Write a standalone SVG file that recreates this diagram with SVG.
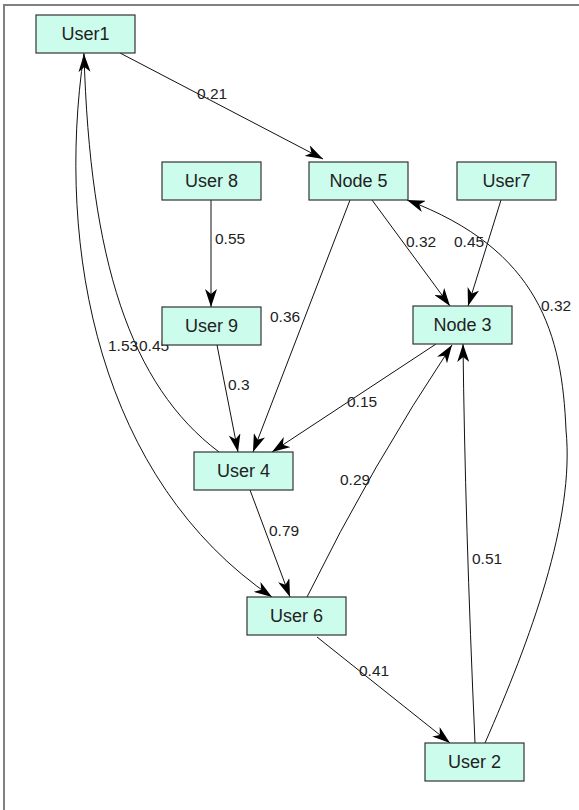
<svg xmlns="http://www.w3.org/2000/svg" width="579" height="810" viewBox="0 0 579 810">
<defs>
<style>
.node rect{fill:#ccfcec;stroke:#333;stroke-width:1.2}
.node text{font-family:"Liberation Sans",Arial,sans-serif;font-size:18px;fill:#222;text-anchor:middle}
.edges path{fill:none;stroke:#111;stroke-width:1}
.lbl{font-family:"Liberation Sans",Arial,sans-serif;font-size:15.5px;fill:#222}
</style>
<marker id="arr" viewBox="0 0 18 12" refX="18" refY="6" markerWidth="18" markerHeight="12" orient="auto" markerUnits="userSpaceOnUse">
<path d="M0,0 L18,6 L0,12 L5,6 z" fill="#000"/>
</marker>
</defs>
<rect x="0" y="0" width="579" height="810" fill="#fff"/>
<path d="M4,810 V5 H579" fill="none" stroke="#808080" stroke-width="2"/>
<g id="connectors" class="edges">
<path d="M120,53 L323,159" marker-end="url(#arr)"/>
<path d="M211,200 L211,307" marker-end="url(#arr)"/>
<path d="M372,200 L450,306" marker-end="url(#arr)"/>
<path d="M501,200 L468,306" marker-end="url(#arr)"/>
<path d="M485,743 C530,640 575,520 566,430 C562,335 540,250 407,200" marker-end="url(#arr)"/>
<path d="M475,743 Q465,520 463,344" marker-end="url(#arr)"/>
<path d="M307,597 Q372,465 452,345" marker-end="url(#arr)"/>
<path d="M436,344 L272,452" marker-end="url(#arr)"/>
<path d="M350,200 L253,452" marker-end="url(#arr)"/>
<path d="M217,345 L238,452" marker-end="url(#arr)"/>
<path d="M219,452 C130,385 90,260 84,54" marker-end="url(#arr)"/>
<path d="M84,53 C55,250 100,480 272,597" marker-end="url(#arr)"/>
<path d="M250,490 L290,597" marker-end="url(#arr)"/>
<path d="M317,637 L450,743" marker-end="url(#arr)"/>
</g>
<g id="edge-labels">
<text class="lbl" x="197" y="99">0.21</text>
<text class="lbl" x="215" y="244">0.55</text>
<text class="lbl" x="406" y="247">0.32</text>
<text class="lbl" x="454" y="247">0.45</text>
<text class="lbl" x="541" y="311">0.32</text>
<text class="lbl" x="270" y="322">0.36</text>
<text class="lbl" x="108" y="351">1.53</text>
<text class="lbl" x="139" y="351">0.45</text>
<text class="lbl" x="228" y="390">0.3</text>
<text class="lbl" x="347" y="407">0.15</text>
<text class="lbl" x="340" y="485">0.29</text>
<text class="lbl" x="269" y="536">0.79</text>
<text class="lbl" x="472" y="564">0.51</text>
<text class="lbl" x="359" y="676">0.41</text>
</g>
<g id="user1" class="node"><rect x="36" y="15" width="99" height="38"/><text x="85.5" y="40">User1</text></g>
<g id="user8" class="node"><rect x="162" y="162" width="99" height="38"/><text x="211.5" y="187">User 8</text></g>
<g id="node5" class="node"><rect x="309" y="162" width="99" height="38"/><text x="358.5" y="187">Node 5</text></g>
<g id="user7" class="node"><rect x="457" y="162" width="99" height="38"/><text x="506.5" y="187">User7</text></g>
<g id="user9" class="node"><rect x="162" y="307" width="99" height="38"/><text x="211.5" y="332">User 9</text></g>
<g id="node3" class="node"><rect x="413" y="306" width="99" height="38"/><text x="462.5" y="331">Node 3</text></g>
<g id="user4" class="node"><rect x="194" y="452" width="99" height="38"/><text x="243.5" y="477">User 4</text></g>
<g id="user6" class="node"><rect x="247" y="597" width="99" height="38"/><text x="296.5" y="622">User 6</text></g>
<g id="user2" class="node"><rect x="425" y="743" width="99" height="38"/><text x="474.5" y="768">User 2</text></g>
</svg>
